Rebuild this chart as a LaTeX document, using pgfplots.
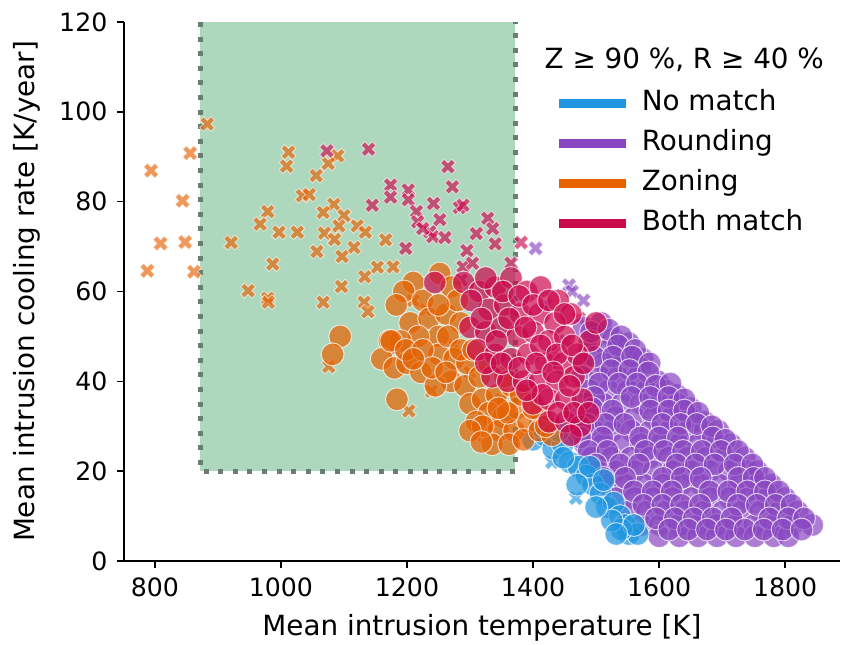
\documentclass[border=0pt]{standalone}
\usepackage{pgfplots}
\pgfplotsset{compat=1.18}
\usepackage{fontspec}
\setmainfont{DejaVu Sans}
\definecolor{cblue}{RGB}{31,150,224}
\definecolor{cpurple}{RGB}{137,70,193}
\definecolor{corange}{RGB}{230,97,0}
\definecolor{ccrim}{RGB}{203,10,78}
\definecolor{cgreen}{RGB}{174,216,190}
\definecolor{cborder}{RGB}{107,125,112}
\pgfdeclareplotmark{Xf}{%
\pgfpathmoveto{\pgfpoint{-0.5\pgfplotmarksize}{-1\pgfplotmarksize}}%
\pgfpathlineto{\pgfpoint{0pt}{-0.5\pgfplotmarksize}}%
\pgfpathlineto{\pgfpoint{0.5\pgfplotmarksize}{-1\pgfplotmarksize}}%
\pgfpathlineto{\pgfpoint{1\pgfplotmarksize}{-0.5\pgfplotmarksize}}%
\pgfpathlineto{\pgfpoint{0.5\pgfplotmarksize}{0pt}}%
\pgfpathlineto{\pgfpoint{1\pgfplotmarksize}{0.5\pgfplotmarksize}}%
\pgfpathlineto{\pgfpoint{0.5\pgfplotmarksize}{1\pgfplotmarksize}}%
\pgfpathlineto{\pgfpoint{0pt}{0.5\pgfplotmarksize}}%
\pgfpathlineto{\pgfpoint{-0.5\pgfplotmarksize}{1\pgfplotmarksize}}%
\pgfpathlineto{\pgfpoint{-1\pgfplotmarksize}{0.5\pgfplotmarksize}}%
\pgfpathlineto{\pgfpoint{-0.5\pgfplotmarksize}{0pt}}%
\pgfpathlineto{\pgfpoint{-1\pgfplotmarksize}{-0.5\pgfplotmarksize}}%
\pgfpathclose
\pgfusepathqfillstroke}

% ---------- data ----------
\pgfplotstableread{
T v
794 86.9
856 90.8
844 80.2
809 70.7
848 71.0
788 64.6
862 64.4
883 97.3
1012 91.0
1009 87.9
1090 90.2
1075 88.5
1056 85.8
1034 81.3
1045 81.6
1084 79.4
1067 77.6
979 77.8
967 75.0
1100 76.9
1092 74.6
1069 73.0
997 73.2
1026 73.2
921 70.9
1121 74.6
1134 73.2
1085 71.6
1057 68.9
1116 69.8
1097 67.8
1166 71.5
987 66.1
1153 65.4
1178 65.5
1133 63.3
1096 61.1
948 60.2
979 58.5
980 57.6
1067 57.6
1132 57.6
1138 55.5
1076 43.3
1239 37.8
1203 33.4
1312 27.6
1210 58.0
1230 56.0
1275 48.0
1300 42.0
1350 36.0
1330 30.0
1180 47.0
}\zonX
\pgfplotstableread{
T v
1073 91.3
1139 91.7
1174 83.7
1174 81.0
1145 79.2
1265 87.8
1272 83.3
1202 82.6
1202 80.4
1215 77.8
1242 79.6
1283 78.7
1289 79.2
1252 76.0
1217 75.5
1236 73.3
1241 72.2
1328 76.3
1336 74.0
1310 72.9
1340 70.6
1198 69.6
1295 69.1
1289 65.5
1304 66.3
1286 62.6
1381 70.9
1365 66.3
1473 54.0
1433 46.5
1260 72.0
1225 74.0
}\bothX
\pgfplotstableread{
T v
1404 69.6
1457 61.4
1462 60.0
1452 49.0
1536 47.0
1540 45.5
1778 17.3
1500 52.0
1600 40.0
1560 44.0
1480 58.0
1420 57.0
}\rouX
\pgfplotstableread{
T v
1468 14.0
1430 22.0
}\noX
\pgfplotstableread{
T v
1400 27
1418 28
1432 25
1447 26
1458 22
1472 21
1485 19
1495 17
1507 15
1517 12
1528 13
1538 10
1546 8
1552 6
1566 6
1448 23
1490 21
1540 7
1512 18
1560 8
1525 9
1470 17
1500 12
1532 6
1410 30
1440 29
}\noC
\pgfplotstableread{
T v
1480 52
1508 53
1497 49.5
1527 49.5
1552 48.5
1488 47
1518 47
1548 46
1574 45
1482 44
1512 44
1542 44
1570 43
1478 41
1506 41
1535 41
1566 41
1598 40
1490 38
1520 38
1551 38
1580 38
1610 38
1628 37
1482 35
1512 35
1541 35
1571 35
1600 35
1629 35
1650 34
1470 32
1500 32
1531 32
1561 32
1591 32
1620 32
1648 32
1672 31
1468 29
1497 29
1526 29
1556 29
1586 29
1616 29
1646 29
1672 29
1694 29
1482 26
1511 26
1541 26
1571 26
1601 26
1631 26
1661 26
1690 26
1714 26
1493 23
1524 23
1555 23
1585 23
1615 23
1645 23
1675 23
1705 23
1736 23
1502 20
1531 20
1561 20
1591 20
1621 20
1651 20
1681 20
1711 20
1741 20
1756 20
1516 17
1546 17
1576 17
1606 17
1636 17
1666 17
1696 17
1726 17
1756 17
1778 17
1532 14
1561 14
1591 14
1621 14
1651 14
1681 14
1711 14
1741 14
1771 14
1800 14
1552 11
1581 11
1611 11
1641 11
1671 11
1701 11
1731 11
1761 11
1791 11
1820 11
1572 8
1601 8
1631 8
1661 8
1691 8
1721 8
1751 8
1781 8
1811 8
1843 8
1600 5.5
1632 5.5
1662 5.5
1692 5.5
1722 5.5
1752 5.5
1782 5.5
1805 5.5
1492 51
1520 51.5
1540 50
1535 48
1562 47
1497 45.5
1527 45.5
1557 45.5
1585 44
1524 42.5
1553 42.5
1583 42
1505 39.5
1536 39.5
1565 39.5
1595 39
1618 39.5
1497 36.5
1556 36.5
1586 36.5
1615 36.5
1640 36
1494 34
1526 33.5
1586 33.5
1615 33.5
1640 33.5
1662 33
1485 30.5
1515 30.5
1545 30.5
1605 30.5
1634 30.5
1660 30.5
1684 30
1475 27.5
1510 27.5
1570 27.5
1600 27.5
1630 27.5
1685 27.5
1705 27
1488 24.5
1518 24.5
1578 24.5
1608 24.5
1638 24.5
1668 24.5
1698 24.5
1725 24.5
1500 21.5
1538 21.5
1568 21.5
1628 21.5
1658 21.5
1688 21.5
1720 21.5
1748 21.5
1512 18.5
1546 18.5
1606 18.5
1636 18.5
1666 18.5
1726 18.5
1750 18.5
1768 18.5
1560 15.5
1590 15.5
1620 15.5
1680 15.5
1710 15.5
1740 15.5
1768 15.5
1790 15.5
1575 12.5
1605 12.5
1635 12.5
1665 12.5
1725 12.5
1755 12.5
1785 12.5
1810 12.5
1595 9.5
1625 9.5
1655 9.5
1685 9.5
1715 9.5
1775 9.5
1805 9.5
1830 9.5
1616 7
1646 7
1676 7
1706 7
1736 7
1766 7
1796 7
1826 7
}\rouC
\pgfplotstableread{
T v
1252 64
1270 61
1210 62
1195 60
1225 58
1183 57
1205 53
1235 54
1262 55
1285 53
1250 50
1218 50
1190 49
1172 49
1160 45
1180 43
1200 44
1222 42
1250 46
1275 45
1295 44
1270 40
1292 39
1315 41
1245 39
1300 35
1320 36
1342 37
1365 39
1330 33
1310 31
1352 32
1375 34
1395 37
1345 29
1370 29
1392 31
1412 33
1335 26
1362 26
1385 27
1410 29
1430 28
1184 36
1094 50
1082 46
1175 49
1198 47
1280 58
1250 57
1225 47
1265 50
1240 43
1285 47
1305 47
1330 44
1320 30
1355 41
1380 37
1400 34
1420 30
1360 33
1300 29
1318 26.5
1345 34
1210 45
1262 42
}\zonC
\pgfplotstableread{
T v
1244 62
1290 62
1315 60
1340 61
1365 63
1390 60
1412 61
1440 58
1460 55
1330 56
1355 57
1380 55
1410 55
1435 53
1300 52
1325 51
1350 52
1375 50
1400 51
1425 49
1450 50
1490 49
1312 47
1340 46
1365 45
1392 46
1420 44
1448 44
1335 41
1360 40
1385 40
1410 40
1438 40
1465 41
1400 35
1425 36
1452 36
1478 36
1425 31
1452 31
1475 30
1470 46
1302 58
1325 63
1352 60
1378 59
1400 57
1425 58
1450 55
1318 54
1342 49
1362 54
1388 52
1412 48
1438 46
1462 48
1325 44
1350 44
1378 43
1405 44
1432 42
1458 39
1415 37
1440 33
1465 33
1488 33
1390 38
1480 44
1500 53
1460 28
}\bothC

\begin{document}
\fontsize{13.9pt}{16.5pt}\selectfont
\begin{tikzpicture}
\begin{axis}[
  scale only axis, width=358pt, height=269.5pt,
  xmin=751, xmax=1887, ymin=0, ymax=120,
  axis x line*=bottom, axis y line*=left,
  axis line style={-, line width=0.8pt},
  xtick={800,1000,...,1800}, ytick={0,20,...,120},
  tick align=outside, major tick length=3.5pt,
  tick style={line width=0.8pt, black},
  tick label style={font=\fontsize{12.6pt}{15pt}\selectfont},
  /pgf/number format/assume math mode=true,
  /pgf/number format/set thousands separator={},
  xlabel={Mean intrusion temperature [K]},
  ylabel={Mean intrusion cooling rate [K/year]},
  xlabel style={at={(axis description cs:0.5,-0.1243)}, anchor=center},
  ylabel style={at={(axis description cs:-0.1355,0.5)}, anchor=center},
  legend style={at={(axis cs:1434,104.9)}, anchor=north west, draw=none, fill=none,
     inner sep=0pt, row sep=7pt, nodes={inner sep=0pt, text height=10pt, text depth=3pt},
     /tikz/every odd column/.style={column sep=5.5pt}},
  legend cell align=left,
  legend image code/.code={\draw[#1, line width=4.5pt] (0pt,0pt) -- (33.5pt,0pt);},
  clip=true,
]
\coordinate (LL) at (rel axis cs:0,0);
\coordinate (UR) at (rel axis cs:1,1);
\addlegendimage{cblue}\addlegendentry{No match}
\addlegendimage{cpurple}\addlegendentry{Rounding}
\addlegendimage{corange}\addlegendentry{Zoning}
\addlegendimage{ccrim}\addlegendentry{Both match}
% shaded region
\addplot[fill=cgreen, draw=none, forget plot] coordinates {(872,20) (1372,20) (1372,120) (872,120)} --cycle;
\addplot[draw=cborder, line width=2.5pt, dash pattern=on 2.5pt off 4.8pt, forget plot] coordinates {(872,120) (872,20) (1372,20) (1372,120)};
% crosses
\pgfplotsset{cross/.style={only marks, forget plot, mark=Xf, mark size=3.7pt,
   mark options={fill=#1, draw=white, line width=0.4pt, opacity=0.65}}}
\addplot[cross=corange] table {\zonX};
\addplot[cross=ccrim] table {\bothX};
\addplot[cross=cpurple] table {\rouX};
\addplot[cross=cblue] table {\noX};
% circles
\pgfplotsset{circ/.style={only marks, forget plot, mark=*, mark size=5.7pt,
   mark options={fill=#1, draw=white, line width=0.5pt, opacity=0.7}}}
\addplot[circ=cpurple] table {\rouC};
\addplot[circ=cblue] table {\noC};
\addplot[circ=corange] table {\zonC};
\addplot[circ=ccrim] table {\bothC};
\node[anchor=center] at (axis cs:1640,111.5) {Z ≥ 90 \%, R ≥ 40 \%};
\end{axis}
\pgfresetboundingbox
\path[use as bounding box] ([xshift=-62pt,yshift=-42pt]LL) rectangle ([xshift=1.5pt,yshift=11pt]UR);
\end{tikzpicture}
\end{document}
